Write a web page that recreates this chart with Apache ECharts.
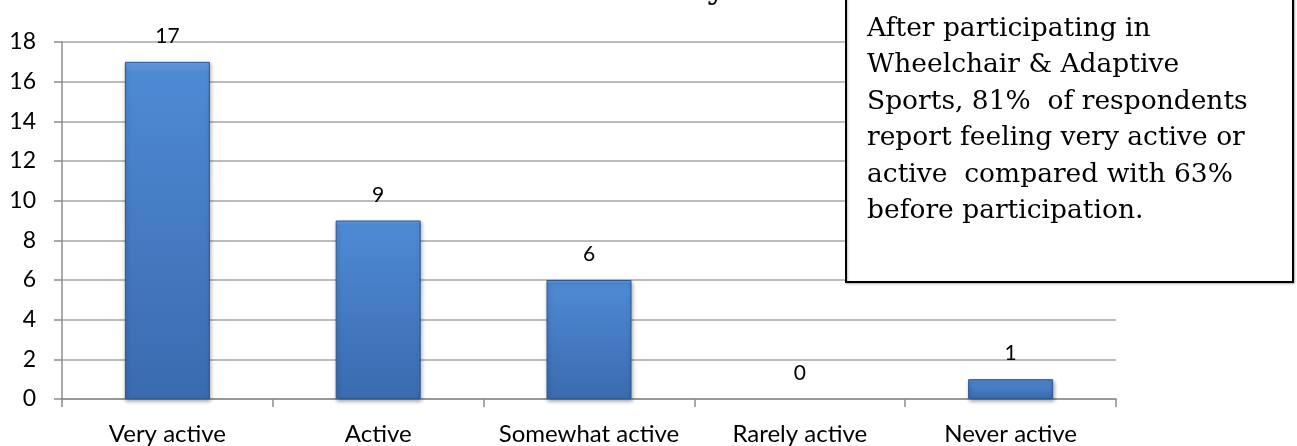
<!DOCTYPE html>
<html>
<head>
<meta charset="utf-8">
<script src="https://cdn.jsdelivr.net/npm/echarts@6/dist/echarts.min.js"></script>
<style>
  html, body { margin: 0; padding: 0; background: #fff; }
  #chart { width: 1297px; height: 446px; }
</style>
</head>
<body>
<div id="chart"></div>
<script>
// 数据
const categories = ["Very active", "Active", "Somewhat active", "Rarely active", "Never active"];
const counts = [17, 9, 6, 0, 1];
const yMax = 18;
const yStep = 2;
const titleText = "Perceived Activity Level";
const noteLines = [
  "After participating in",
  "Wheelchair & Adaptive",
  "Sports, 81%  of respondents",
  "report feeling very active or",
  "active  compared with 63%",
  "before participation."
];

const labelFont = 'Lato, "Open Sans", sans-serif';
const serifFont = '"DejaVu Serif", Georgia, serif';

// 柱子样式
const barStyle = {
  color: {
    type: "linear",
    x: 0, y: 0, x2: 0, y2: 1,
    colorStops: [
      { offset: 0, color: "#6aa3e6" },
      { offset: 0.03, color: "#4e8ad4" },
      { offset: 1, color: "#3a6baf" },
    ],
  },
  borderColor: "#2d5890",
  borderWidth: 1,
  shadowColor: "rgba(0,0,0,0.35)",
  shadowBlur: 4,
  shadowOffsetX: 1,
  shadowOffsetY: 2,
};

// 0 的柱子不画出来，只留标签
const barData = counts.map((v) =>
  v === 0
    ? { value: v, itemStyle: { color: "transparent", borderWidth: 0, shadowBlur: 0, shadowColor: "transparent" } }
    : v
);

// 1. 实例化echart对象
const myChart = echarts.init(document.querySelector("#chart"));

// 2. 调整配置
const option = {
  animation: false,
  grid: {
    left: 62,
    right: 181,
    top: 42,
    bottom: 46,
  },
  xAxis: {
    type: "category",
    data: categories,
    axisLine: { lineStyle: { color: "#8c8c8c", width: 1.5 } },
    axisTick: { show: true, length: 8, lineStyle: { color: "#8c8c8c", width: 1.5 } },
    axisLabel: {
      interval: 0,
      hideOverlap: false,
      color: "#000",
      fontFamily: labelFont,
      fontSize: 24,
      margin: 23,
    },
  },
  yAxis: {
    type: "value",
    min: 0,
    max: yMax,
    interval: yStep,
    axisLine: { show: true, lineStyle: { color: "#8c8c8c", width: 1.5 } },
    axisTick: { show: true, length: 8, lineStyle: { color: "#8c8c8c", width: 1.5 } },
    axisLabel: {
      color: "#000",
      fontFamily: labelFont,
      fontSize: 23,
      margin: 26,
    },
    splitLine: { lineStyle: { color: "#a6a6a6", width: 1.5 } },
  },
  series: [
    {
      type: "bar",
      data: barData,
      barWidth: 85,
      itemStyle: barStyle,
      label: {
        show: true,
        position: "top",
        distance: 15,
        color: "#000",
        fontFamily: labelFont,
        fontSize: 21,
      },
    },
  ],
  graphic: [
    {
      type: "text",
      right: 1297 - 823,
      top: -24,
      z: 5,
      style: {
        text: titleText,
        font: 'bold 30px "DejaVu Serif", serif',
        fill: "#000",
      },
    },
    {
      type: "rect",
      shape: { x: 846, y: -10, width: 447, height: 292 },
      z: 10,
      style: {
        fill: "#fff",
        stroke: "#000",
        lineWidth: 2,
        shadowColor: "rgba(0,0,0,0.25)",
        shadowBlur: 2,
        shadowOffsetX: 1,
        shadowOffsetY: 1,
      },
    },
    {
      type: "text",
      x: 867,
      y: 11,
      z: 11,
      style: {
        text: noteLines.join("\n"),
        fontFamily: serifFont,
        fontSize: 26.5,
        lineHeight: 36.4,
        fill: "#000",
        verticalAlign: "top",
      },
    },
  ],
};

// 3. 调用setOption方法
myChart.setOption(option);
</script>
</body>
</html>
